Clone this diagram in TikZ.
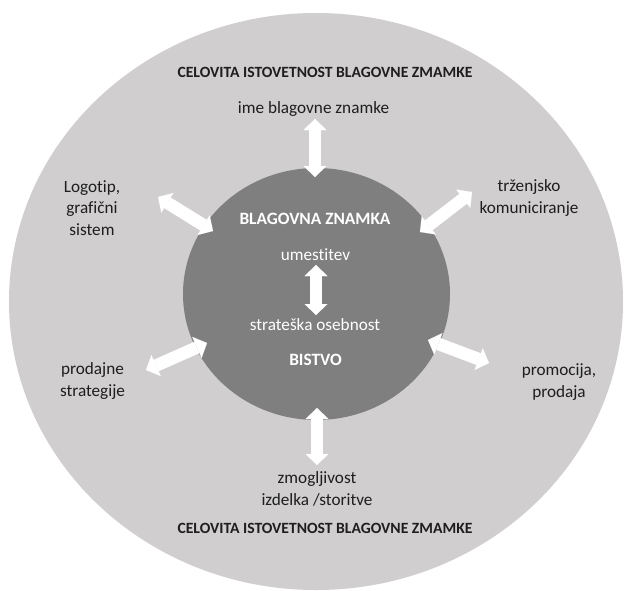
\documentclass[tikz,border=0pt]{standalone}
\usepackage{fontspec}
\setmainfont{Carlito}[Ligatures=CommonOff]
\usetikzlibrary{arrows.meta,shapes.geometric}
\definecolor{outergray}{RGB}{208,206,207}
\definecolor{innergray}{RGB}{127,127,127}
\definecolor{txt}{RGB}{30,30,30}
\begin{document}
\begin{tikzpicture}[x=1pt,y=-1pt,
  twoway/.style={draw=white, line width=12.5pt,
    {Triangle[width=23pt,length=11pt,line width=0.01pt]}-{Triangle[width=23pt,length=11pt,line width=0.01pt]}},
  lbl/.style={font=\fontsize{17.2}{21.5}\selectfont, text=txt, align=center, inner sep=0pt, anchor=base},
  ttl/.style={font=\bfseries\fontsize{15.65}{18}\selectfont, text=txt, inner sep=0pt, anchor=base},
  inlbl/.style={font=\fontsize{17.2}{20}\selectfont, text=white, inner sep=0pt, anchor=base},
  inttl/.style={font=\bfseries\fontsize{17.3}{20}\selectfont, text=white, inner sep=0pt, anchor=base}]
\useasboundingbox (0,0) rectangle (624,590);
\fill[white] (0,0) rectangle (624,590);
\begin{scope}
\clip (0,0) rectangle (624,590);
\node[ellipse, fill=outergray, inner sep=0pt, minimum width=614pt, minimum height=577pt] (outer) at (316,301.5) {};
\end{scope}
\node[ellipse, fill=innergray, inner sep=0pt, minimum width=267pt, minimum height=252pt] (core) at (316.5,294) {};
% arrow end points
\coordinate (tA) at (315,119);   \coordinate (tB) at (315,177);
\coordinate (bA) at (317,408);   \coordinate (bB) at (317,465);
\coordinate (cA) at (316,265);   \coordinate (cB) at (316,315);
\coordinate (ulA) at (158,197);  \coordinate (ulB) at (213,231);
\coordinate (urA) at (472,192);  \coordinate (urB) at (420,232);
\coordinate (llA) at (146,370);  \coordinate (llB) at (207,343);
\coordinate (lrA) at (489,363);  \coordinate (lrB) at (428,340);
\draw[twoway] (tA) -- (tB);
\draw[twoway] (bA) -- (bB);
\draw[twoway] (cA) -- (cB);
\draw[twoway] (ulA) -- (ulB);
\draw[twoway] (urA) -- (urB);
\draw[twoway] (llA) -- (llB);
\draw[twoway] (lrA) -- (lrB);
% texts (multi-line nodes: base = baseline of last line)
\node[ttl] (ttop) at (325,77) {CELOVITA ISTOVETNOST BLAGOVNE ZMAMKE};
\node[ttl] (tbot) at (325,533) {CELOVITA ISTOVETNOST BLAGOVNE ZMAMKE};
\node[lbl] (ime) at (313.5,113) {ime blagovne znamke};
\node[lbl] (logo) at (92,235) {Logotip,\\grafični\\sistem};
\node[lbl] (trz) at (529,213) {trženjsko\\komuniciranje};
\node[lbl] (prod) at (92.5,396) {prodajne\\strategije};
\node[lbl] (prom) at (559,397) {promocija,\\prodaja};
\node[lbl] (zmog) at (317,505) {zmogljivost\\izdelka /storitve};
\node[inttl] (bz) at (315,224) {BLAGOVNA ZNAMKA};
\node[inlbl] (um) at (315.5,260) {umestitev};
\node[inlbl] (so) at (315,330) {strateška osebnost};
\node[inttl] (bis) at (315.5,365) {BISTVO};
\end{tikzpicture}
\end{document}
